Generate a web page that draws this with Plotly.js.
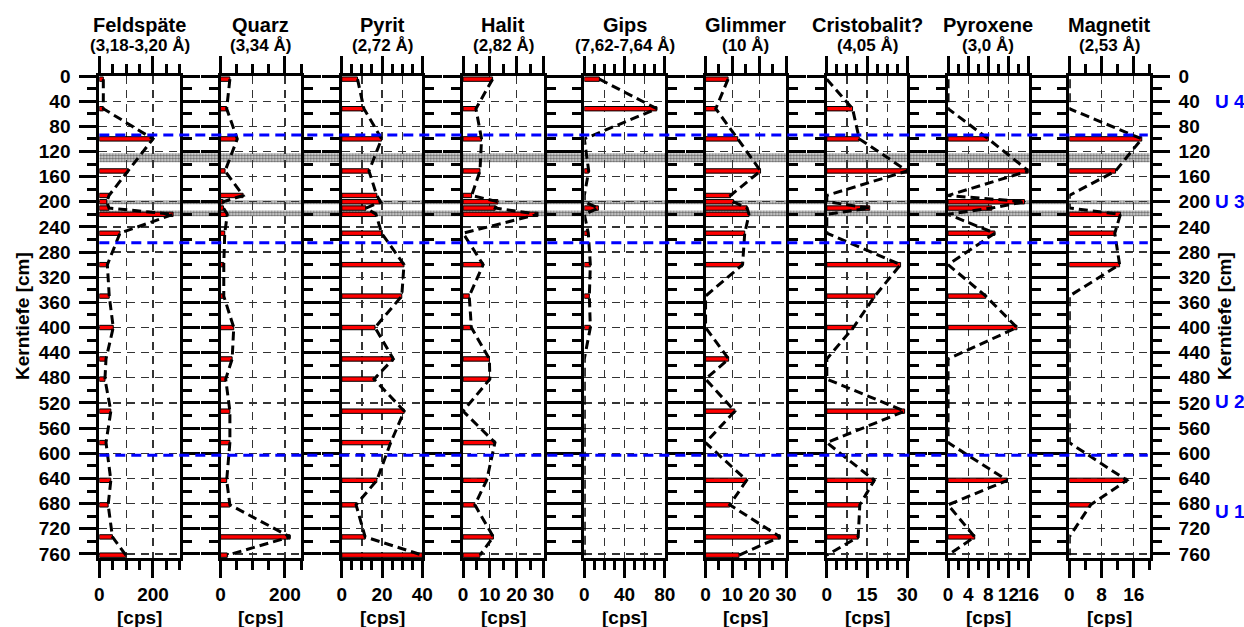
<!DOCTYPE html>
<html>
<head>
<meta charset="utf-8">
<script src="https://cdn.plot.ly/plotly-3.0.1.min.js"></script>
<style>
  html, body { margin: 0; padding: 0; background: #fff; }
  #chart { width: 1244px; height: 627px; }
</style>
</head>
<body>
<div id="chart"></div>
<script>
// Sample depths along the core [cm]
const depthCm = [5, 52, 100, 151, 190, 200, 210, 220, 250, 300, 350, 400, 450, 482, 533, 583, 643, 682, 733, 762];

// Peak intensities [cps] per mineral at each sample depth
const feldspaete  = [15, 15, 200, 107, 36, 28, 36, 275, 77, 30, 37, 52, 25, 21, 43, 25, 43, 33, 49, 99];
const quarz       = [29, 19, 52, 14, 70, 8, 9, 21, 13, 10, 10, 41, 36, 16, 29, 29, 19, 29, 216, 21];
const pyrit       = [7.8, 11, 19.8, 13.5, 17.4, 19.3, 12, 17, 19.8, 30.9, 29.8, 16.5, 25.6, 16, 31, 24.3, 17.4, 7.1, 11.6, 40];
const halit       = [11, 4.8, 6.9, 6.3, 3.2, 13, 12, 27.9, 0, 7.5, 2.3, 3.1, 9.8, 10, 0, 11.9, 8.8, 4.4, 11.3, 6.3];
const gips        = [15, 72, 0, 4.4, 0, 0, 14, 0, 4, 6, 5, 6, 0, 0, 0, 0, 0, 0, 0, 0];
const glimmer     = [8.4, 3.8, 12, 20.5, 9.3, 10.4, 15.5, 16.2, 14.6, 13.8, 0, 0, 8.6, 0, 10.9, 0, 15.3, 9, 27.8, 12.5];
const cristobalit = [0, 9.6, 12.1, 30, 0, 0, 16, 0, 0, 27.5, 17.9, 9.9, 0, 0, 29, 0, 17.7, 12.3, 11.7, 0];
const pyroxene    = [0, 0, 8, 16, 0, 15.2, 8.7, 0, 9.3, 0, 7.5, 13.7, 0, 0, 0, 0, 11.8, 0, 5.3, 0];
const magnetit    = [0, 0, 18, 11.5, 0, 0, 0, 12.7, 11.3, 12.5, 0, 0, 0, 0, 0, 0, 14.3, 5.3, 0, 0];

const mineralNames = ['Feldspäte', 'Quarz', 'Pyrit', 'Halit', 'Gips', 'Glimmer', 'Cristobalit?', 'Pyroxene', 'Magnetit'];
const reflexLabels = ['(3,18-3,20 Å)', '(3,34 Å)', '(2,72 Å)', '(2,82 Å)', '(7,62-7,64 Å)', '(10 Å)', '(4,05 Å)', '(3,0 Å)', '(2,53 Å)'];
const intensities = [feldspaete, quarz, pyrit, halit, gips, glimmer, cristobalit, pyroxene, magnetit];

// Intensity axes: maximum, gridded tick step, labelled ticks, minor tick step
const axisMax     = [300, 250, 40, 30, 80, 30, 30, 16, 20];
const gridStep    = [100, 100, 10, 10, 20, 10, 7.5, 4, 8];
const labelTicks  = [[0, 200], [0, 200], [0, 20, 40], [0, 10, 20, 30], [0, 40, 80], [0, 10, 20, 30], [0, 15, 30], [0, 4, 8, 12, 16], [0, 8, 16]];
const minorStep   = [50, 50, 5, 5, 10, 5, 3.75, 2, 4];

// Lithological units and their boundaries [cm]
const unitBoundaries = [94, 265, 603];
const unitLabels = ['U 4', 'U 3', 'U 2', 'U 1'];
const unitLabelDepths = [40, 200, 517, 693];

// Stippled marker horizons [cm]
const bandTop    = [123, 198, 214];
const bandBottom = [137, 204, 223];

// ---- geometry (pixels) ----
const W = 1244, H = 627;
const plotTop = 76, plotBottom = 558.3;
const panelLeft0 = 99.3, panelStep = 121.25, panelWidth = 80.5;
const yDom = [1 - plotBottom / H, 1 - plotTop / H];
const depthRange = [767, 0];
const FONT = 'Liberation Sans, Arial, Helvetica, sans-serif';
const TICKFONT = {family: FONT, size: 19, weight: 'bold', color: '#000'};

const traces = [];
const layout = {
  width: W, height: H,
  margin: {l: 0, r: 0, t: 0, b: 0},
  paper_bgcolor: '#ffffff',
  plot_bgcolor: 'rgba(0,0,0,0)',
  showlegend: false,
  barmode: 'overlay',
  font: {family: FONT, color: '#000', size: 18, weight: 'bold'},
  annotations: [],
  shapes: []
};

// Background subplot spanning all panels: stippled horizons
const spanLeft = panelLeft0 / W;
const spanRight = (panelLeft0 + 8 * panelStep + panelWidth) / W;
layout.xaxis = {domain: [spanLeft, spanRight], range: [0, 1], visible: false, fixedrange: true};
layout.yaxis = {domain: yDom, range: depthRange, visible: false, fixedrange: true};
traces.push({
  type: 'bar', orientation: 'h',
  x: bandTop.map(() => 1),
  y: bandTop.map((t, i) => (t + bandBottom[i]) / 2),
  width: bandTop.map((t, i) => bandBottom[i] - t),
  base: 0,
  marker: {
    color: '#bdbdbd',
    pattern: {shape: '.', fgcolor: '#6e6e6e', bgcolor: '#dadada', size: 3, solidity: 0.5},
    line: {width: 0}
  },
  xaxis: 'x', yaxis: 'y', hoverinfo: 'skip'
});

function steps(max, step) {
  const out = [];
  for (let v = 0; v <= max + 1e-9; v += step) out.push(Math.round(v * 1000) / 1000);
  return out;
}

mineralNames.forEach((name, i) => {
  const k = i + 2;
  const left = panelLeft0 + i * panelStep;
  const xDom = [left / W, (left + panelWidth) / W];
  const vals = intensities[i];

  const major = steps(axisMax[i], gridStep[i]).filter(v => v < axisMax[i] - 1e-9 || labelTicks[i].includes(v));
  const labels = major.map(v => labelTicks[i].includes(v) ? String(v) : '');

  layout['xaxis' + k] = {
    domain: xDom, range: [0, axisMax[i]], anchor: 'y' + k,
    tickmode: 'array', tickvals: major, ticktext: labels, tickangle: 0,
    ticks: 'outside', ticklen: 17, tickwidth: 3, tickcolor: '#000',
    showline: true, linewidth: 3, linecolor: '#000', mirror: 'allticks',
    showgrid: true, gridcolor: '#333333', gridwidth: 1.2, griddash: '8px,6px',
    zeroline: false, fixedrange: true,
    tickfont: TICKFONT,
    minor: {tickmode: 'array', tickvals: steps(axisMax[i], minorStep[i]), ticks: 'outside', ticklen: 9, tickwidth: 3, tickcolor: '#000', showgrid: false}
  };
  layout['yaxis' + k] = {
    domain: yDom, range: depthRange, anchor: 'x' + k,
    tick0: 0, dtick: 40,
    ticks: 'outside', ticklen: 17, tickwidth: 3, tickcolor: '#000',
    showline: true, linewidth: 3, linecolor: '#000', mirror: 'allticks',
    showgrid: true, gridcolor: '#333333', gridwidth: 1.2, griddash: '8px,6px',
    zeroline: false, fixedrange: true,
    showticklabels: (i === 0 || i === 8),
    side: i === 8 ? 'right' : 'left',
    ticklabelstandoff: 5,
    tickfont: TICKFONT,
    minor: {dtick: 20, tick0: 0, ticks: 'outside', ticklen: 9, tickwidth: 3, tickcolor: '#000', showgrid: false}
  };

  // bars for measured intensities
  traces.push({
    type: 'bar', orientation: 'h',
    x: vals.map(v => v > 0 ? v : null), y: depthCm, base: 0, width: 7,
    marker: {color: '#ff0000', line: {color: '#000', width: 1}},
    xaxis: 'x' + k, yaxis: 'y' + k, hoverinfo: 'skip'
  });
  // dashed profile through all samples
  traces.push({
    type: 'scatter', mode: 'lines',
    x: vals, y: depthCm,
    line: {color: '#000', width: 3, dash: '9px,5px'},
    xaxis: 'x' + k, yaxis: 'y' + k, hoverinfo: 'skip'
  });

  const cx = (left + panelWidth / 2) / W;
  layout.annotations.push({
    xref: 'paper', yref: 'paper', x: cx, y: 1 - 25 / H, xanchor: 'center', yanchor: 'middle',
    text: name, showarrow: false, font: {family: FONT, size: 20, weight: 'bold', color: '#000'}
  });
  layout.annotations.push({
    xref: 'paper', yref: 'paper', x: cx, y: 1 - 46 / H, xanchor: 'center', yanchor: 'middle',
    text: reflexLabels[i], showarrow: false, font: {family: FONT, size: 17, weight: 'bold', color: '#000'}
  });
  layout.annotations.push({
    xref: 'paper', yref: 'paper', x: cx, y: 1 - 617 / H, xanchor: 'center', yanchor: 'middle',
    text: '[cps]', showarrow: false, font: {family: FONT, size: 19, weight: 'bold', color: '#000'}
  });
});

// depth axis titles
[22, 1224].forEach(px => {
  layout.annotations.push({
    xref: 'paper', yref: 'paper', x: px / W, y: 1 - 316 / H, xanchor: 'center', yanchor: 'middle',
    text: 'Kerntiefe [cm]', textangle: -90, showarrow: false,
    font: {family: FONT, size: 19, weight: 'bold', color: '#000'}
  });
});

// unit labels
unitLabels.forEach((u, i) => {
  layout.annotations.push({
    xref: 'paper', yref: 'y', x: 1213 / W, y: unitLabelDepths[i], xanchor: 'left', yanchor: 'middle',
    text: u, showarrow: false, font: {family: FONT, size: 19, weight: 'bold', color: '#0000ff'}
  });
});

// unit boundaries
unitBoundaries.forEach(d => {
  layout.shapes.push({
    type: 'line', xref: 'paper', yref: 'y', x0: spanLeft, x1: spanRight - 2 / W, y0: d, y1: d,
    line: {color: '#0000ff', width: 3, dash: '10px,6px'}, layer: 'above'
  });
});

Plotly.newPlot('chart', traces, layout, {staticPlot: true, displayModeBar: false});
</script>
</body>
</html>
